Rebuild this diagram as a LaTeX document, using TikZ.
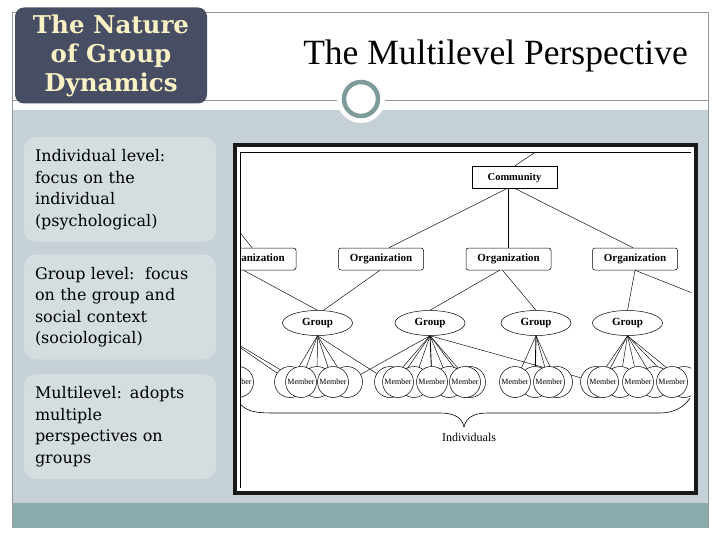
\documentclass[tikz,border=0pt]{standalone}
\usepackage{fontspec}
\setmainfont{Liberation Serif}
\newfontfamily\djs{DejaVu Serif}
\usetikzlibrary{shapes.geometric}
\pgfdeclarelayer{chrome}
\pgfdeclarelayer{wires}
\pgfsetlayers{chrome,wires,main}
\definecolor{panel}{HTML}{C6D1D7}
\definecolor{boxfill}{HTML}{D4DEE1}
\definecolor{band}{HTML}{8AACAC}
\definecolor{titlebox}{HTML}{474D63}
\definecolor{cream}{HTML}{FAF2C4}
\definecolor{ringc}{HTML}{7E9A9A}
\definecolor{rulec}{HTML}{8E9A9C}
\begin{document}
\begin{tikzpicture}[x=1pt,y=-1pt,
  orgbox/.style={draw, rounded corners=2.5pt, minimum width=85pt, minimum height=22pt, inner sep=0pt, fill=white, font=\fontsize{11}{12}\selectfont\bfseries, line width=0.5pt},
  commbox/.style={draw, minimum width=85pt, minimum height=22pt, inner sep=0pt, fill=white, font=\fontsize{10.5}{12}\selectfont\bfseries, line width=0.7pt},
  grp/.style={draw, ellipse, minimum width=70pt, minimum height=25pt, inner sep=0pt, fill=white, font=\fontsize{11}{12}\selectfont\bfseries, line width=0.5pt},
  mem/.style={draw, circle, minimum size=31pt, inner sep=0pt, fill=white, font=\fontsize{8}{9}\selectfont, line width=0.5pt},
  wire/.style={line width=0.45pt},
  thickwire/.style={line width=0.9pt},
  sidebox/.style={fill=boxfill, rounded corners=12pt, minimum width=192pt, minimum height=105pt, text width=170pt, inner xsep=11pt, align=left, font=\djs\fontsize{16}{21.5}\selectfont},
]
\useasboundingbox (0,0) rectangle (720,540);
\begin{pgfonlayer}{chrome}
  \fill[white] (0,0) rectangle (720,540);
  \fill[panel] (12,110) rectangle (708,503);
  \fill[band] (12,503) rectangle (708,528);
  \draw[rulec, line width=0.8pt] (12,528) -- (12,12) -- (708,12) -- (708,528);
  \draw[rulec, line width=0.8pt] (12,100) -- (708,100);
  \draw[black!90, line width=4pt, fill=white] (235,145) rectangle (696,492.5);
  \draw[line width=0.8pt] (240,152) -- (691,152);
  \draw[line width=0.8pt] (240.5,152) -- (240.5,488);
\end{pgfonlayer}

% title area
\node[fill=titlebox, rounded corners=9pt, minimum width=192pt, minimum height=96pt, inner sep=0pt,
      align=center, text=cream, font=\djs\bfseries\fontsize{24.5}{29}\selectfont] (ttl) at (111,55.5)
      {The Nature\\of Group\\Dynamics};
\fill[white] (361,99) circle (24pt);
\draw[ringc, line width=4.5pt, fill=white] (361,99) circle (17pt);
\node[font=\fontsize{35.5}{40}\selectfont, anchor=base, inner sep=0pt] (mt) at (495.5,65) {The Multilevel Perspective};

% side boxes
\node[sidebox] (s1) at (120,189.5) {Individual level:\\focus on the\\individual\\(psychological)};
\node[sidebox] (s2) at (120,307) {Group level:\ \ focus\\on the group and\\social context\\(sociological)};
\node[sidebox] (s3) at (120,426.5) {Multilevel: adopts\\multiple\\perspectives on\\groups};

% diagram
\begin{scope}
\clip (241,153) rectangle (691,490);
\node[commbox] (comm) at (514.5,177.5) {Community};
\node[orgbox] (org1) at (253.5,259) {Organization};
\node[orgbox] (org2) at (381,259) {Organization};
\node[orgbox] (org3) at (508.5,259) {Organization};
\node[orgbox] (org4) at (635,259) {Organization};
\node[grp] (g1) at (317.5,323) {Group};
\node[grp] (g2) at (430,323) {Group};
\node[grp] (g3) at (536,323) {Group};
\node[grp] (g4) at (627.5,323) {Group};
\coordinate (g0) at (222,335);
\coordinate (tl) at (212,197);
\coordinate (ctop) at (552.5,140.5);
\coordinate (oR) at (720,304);
% background members
\node[mem] (b11) at (290,382) {};
\node[mem] (b12) at (317,382) {};
\node[mem] (b13) at (347,382) {};
\node[mem] (b21) at (390,382) {};
\node[mem] (b22) at (414,382) {};
\node[mem] (b23) at (449,382) {};
\node[mem] (b24) at (470,382) {};
\node[mem] (b31) at (535,382) {};
\node[mem] (b32) at (557,382) {};
\node[mem] (b41) at (596,382) {};
\node[mem] (b42) at (620,382) {};
\node[mem] (b43) at (655,382) {};
\node[mem] (b44) at (684,382) {};
% labelled members
\node[mem] (m0) at (238,382) {Member};
\node[mem] (m11) at (301,382) {Member};
\node[mem] (m12) at (333,382) {Member};
\node[mem] (m21) at (398,382) {Member};
\node[mem] (m22) at (432,382) {Member};
\node[mem] (m23) at (465,382) {Member};
\node[mem] (m31) at (515,382) {Member};
\node[mem] (m32) at (549,382) {Member};
\node[mem] (m41) at (603,382) {Member};
\node[mem] (m42) at (638,382) {Member};
\node[mem] (m43) at (672,382) {Member};
\node[font=\fontsize{12}{14}\selectfont, inner sep=1pt] (ind) at (469,437) {Individuals};
\draw[line width=0.6pt] (240,404) .. controls (248,412) and (256,413) .. (275,413) -- (440,413)
  .. controls (455,413) and (462,418) .. (464,427)
  .. controls (466,418) and (473,413) .. (488,413) -- (660,413)
  .. controls (675,413) and (685,406) .. (690,398);
\end{scope}

\begin{pgfonlayer}{wires}
\begin{scope}
\clip (241,153) rectangle (691,490);
\draw[wire] (comm.north) -- (ctop);
\draw[wire] ([xshift=-8pt]comm.south) -- ([xshift=8pt]org2.north);
\draw[thickwire] (org3.north |- comm.south) -- (org3.north);
\draw[wire] ([xshift=1pt]comm.south) -- ([xshift=-2pt]org4.north);
\draw[wire] (tl) -- ([xshift=-1.5pt]org1.north);
\draw[wire] ([xshift=-10pt]org1.south) -- (g1.north);
\draw[wire] ([xshift=-1pt]org2.south) -- ([xshift=6pt]g1.north);
\draw[wire] ([xshift=-9pt]org3.south) -- (g2.north);
\draw[wire] ([xshift=-6pt]org3.south) -- (g3.north);
\draw[wire] (org4.south) -- (g4.north);
\draw[wire] (org4.south) -- (oR);
% group to members
\foreach \m in {b11,m11} \draw[wire] (g0) -- (\m);
\foreach \m in {b11,m11,b12,m12,b13,b21} \draw[wire] (g1.south) -- (\m);
\foreach \m in {b13,b21,m21,b22,b23,m23,b24,b41} \draw[wire] (g2.south) -- (\m);
\draw[thickwire] (g2.south) -- (m22);
\foreach \m in {m31,m32,b32} \draw[wire] (g3.south) -- (\m);
\draw[thickwire] (g3.south) -- (b31);
\foreach \m in {b41,m41,b42,m42,b43,m43,b44} \draw[wire] (g4.south) -- (\m);
\end{scope}
\end{pgfonlayer}
\end{tikzpicture}
\end{document}
